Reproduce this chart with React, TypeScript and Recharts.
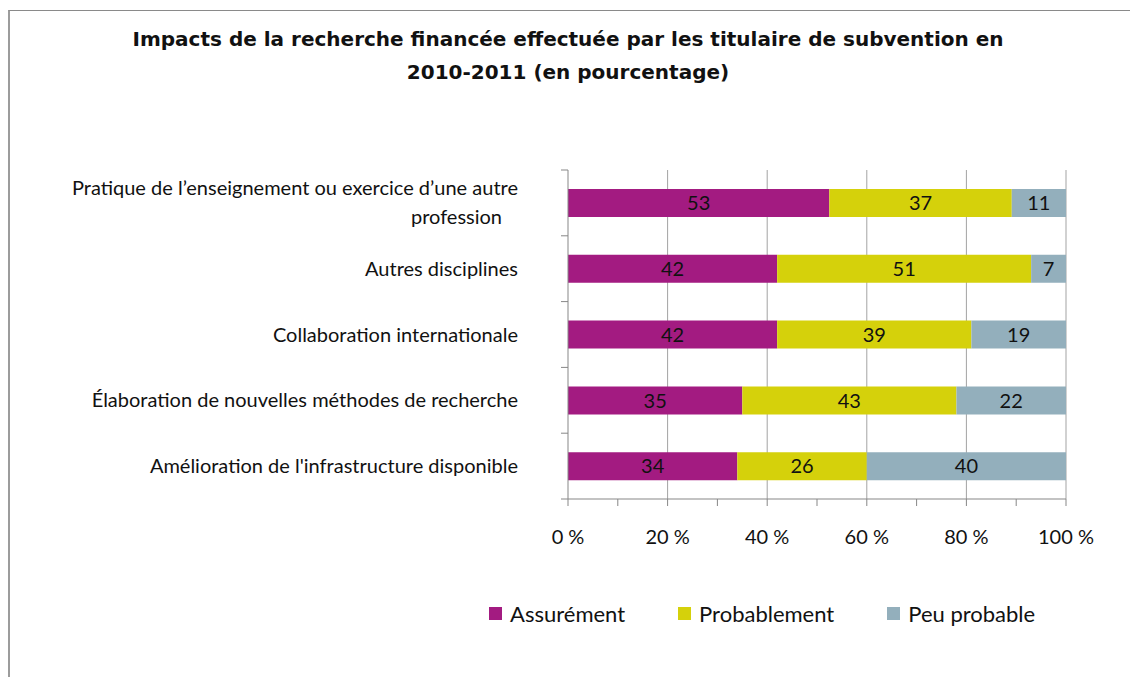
import { BarChart, Bar, XAxis, YAxis, CartesianGrid, Legend, LabelList } from "recharts";

const categories = [
  "Pratique de l’enseignement ou exercice d’une autre\nprofession",
  "Autres disciplines",
  "Collaboration internationale",
  "Élaboration de nouvelles méthodes de recherche",
  "Amélioration de l'infrastructure disponible",
];
const seriesNames = ["Assurément", "Probablement", "Peu probable"];
const assurement = [53, 42, 42, 35, 34];
const probablement = [37, 51, 39, 43, 26];
const peuProbable = [11, 7, 19, 22, 40];
const xTicks = [0, 0.1, 0.2, 0.3, 0.4, 0.5, 0.6, 0.7, 0.8, 0.9, 1];
const gridValues = [0.2, 0.4, 0.6, 0.8, 1];

const data = categories.map((name, i) => ({
  name,
  assurement: assurement[i],
  probablement: probablement[i],
  peuProbable: peuProbable[i],
}));

const FONT = "Lato, 'Open Sans', sans-serif";
const AXIS = "#878787";
const LABEL_GAP = 50; // distance from the axis line to the right edge of the category text

// category label + Excel style tick marks on the band edges
function CategoryTick(props: any) {
  const { x, y, payload, index, visibleTicksCount } = props;
  const lines = String(payload.value).split("\n");
  const start = y - ((lines.length - 1) * 29) / 2;
  const axisX = x + LABEL_GAP;
  const half = payload.offset ?? 0;
  return (
    <g>
      <line x1={axisX - 7} x2={axisX} y1={y - half} y2={y - half} stroke={AXIS} />
      {index === visibleTicksCount - 1 && (
        <line x1={axisX - 7} x2={axisX} y1={y + half} y2={y + half} stroke={AXIS} />
      )}
      {lines.map((line, i) => (
        <text
          key={i}
          x={x + (i > 0 ? -16 : 0)}
          y={start + i * 29}
          dy="0.35em"
          textAnchor="end"
          fontFamily={FONT}
          fontSize={20}
          fill="#111"
        >
          {line}
        </text>
      ))}
    </g>
  );
}

function renderLegend(props: any) {
  const items = seriesNames.map((n) => props.payload.find((e: any) => e.value === n)).filter(Boolean);
  return (
    <div style={{ display: "flex", alignItems: "center", fontFamily: FONT, fontSize: 22, color: "#111" }}>
      {items.map((e: any) => (
        <div key={e.value} style={{ display: "flex", alignItems: "center", marginRight: 53 }}>
          <span style={{ display: "inline-block", width: 13, height: 13, background: e.color, marginRight: 8 }} />
          <span>{e.value}</span>
        </div>
      ))}
    </div>
  );
}

const pct = (v: number) => {
  const p = Math.round(v * 100);
  return p % 20 === 0 ? `${p} %` : "";
};

export default function App() {
  return (
    <div style={{ position: "fixed", left: 0, top: 0, width: 1130, height: 677, overflow: "hidden", background: "#fff" }}>
      <div
        style={{
          position: "absolute",
          left: 8,
          top: 10,
          width: 1300,
          height: 900,
          borderTop: "1px solid #8a8a8a",
          borderLeft: "2px solid #9c9c9c",
        }}
      />
      <div
        style={{
          position: "absolute",
          left: 0,
          top: 23,
          width: 1136,
          textAlign: "center",
          fontFamily: "'DejaVu Sans', sans-serif",
          fontWeight: "bold",
          fontSize: 20,
          lineHeight: "33px",
          color: "#111",
        }}
      >
        Impacts de la recherche financée effectuée par les titulaire de subvention en
        <br />
        2010-2011 (en pourcentage)
      </div>
      <div style={{ position: "absolute", left: 0, top: 0 }}>
        <BarChart
          width={1130}
          height={677}
          data={data}
          layout="vertical"
          stackOffset="expand"
          barSize={28}
          margin={{ top: 170, right: 64, bottom: 118, left: 68 }}
        >
          <CartesianGrid horizontal={false} verticalValues={gridValues} stroke="#a3a3a3" />
          <XAxis
            type="number"
            domain={[0, 1]}
            ticks={xTicks}
            tickFormatter={pct}
            interval={0}
            height={60}
            tickSize={7}
            tickMargin={24}
            axisLine={{ stroke: AXIS }}
            tickLine={{ stroke: AXIS }}
            tick={{ fontFamily: FONT, fontSize: 20, fill: "#111" }}
          />
          <YAxis
            type="category"
            dataKey="name"
            width={500}
            tickSize={0}
            tickMargin={LABEL_GAP}
            axisLine={{ stroke: AXIS }}
            tickLine={false}
            interval={0}
            tick={<CategoryTick />}
          />
          <Legend
            layout="horizontal"
            verticalAlign="middle"
            align="center"
            content={renderLegend}
            wrapperStyle={{ left: 489, top: 600, width: 640 }}
          />
          <Bar dataKey="assurement" name="Assurément" stackId="s" fill="#A31B81" isAnimationActive={false}>
            <LabelList dataKey="assurement" position="center" fill="#111" fontFamily={FONT} fontSize={20} />
          </Bar>
          <Bar dataKey="probablement" name="Probablement" stackId="s" fill="#D5D10B" isAnimationActive={false}>
            <LabelList dataKey="probablement" position="center" fill="#111" fontFamily={FONT} fontSize={20} />
          </Bar>
          <Bar dataKey="peuProbable" name="Peu probable" stackId="s" fill="#93AFBC" isAnimationActive={false}>
            <LabelList dataKey="peuProbable" position="center" fill="#111" fontFamily={FONT} fontSize={20} />
          </Bar>
        </BarChart>
      </div>
    </div>
  );
}
